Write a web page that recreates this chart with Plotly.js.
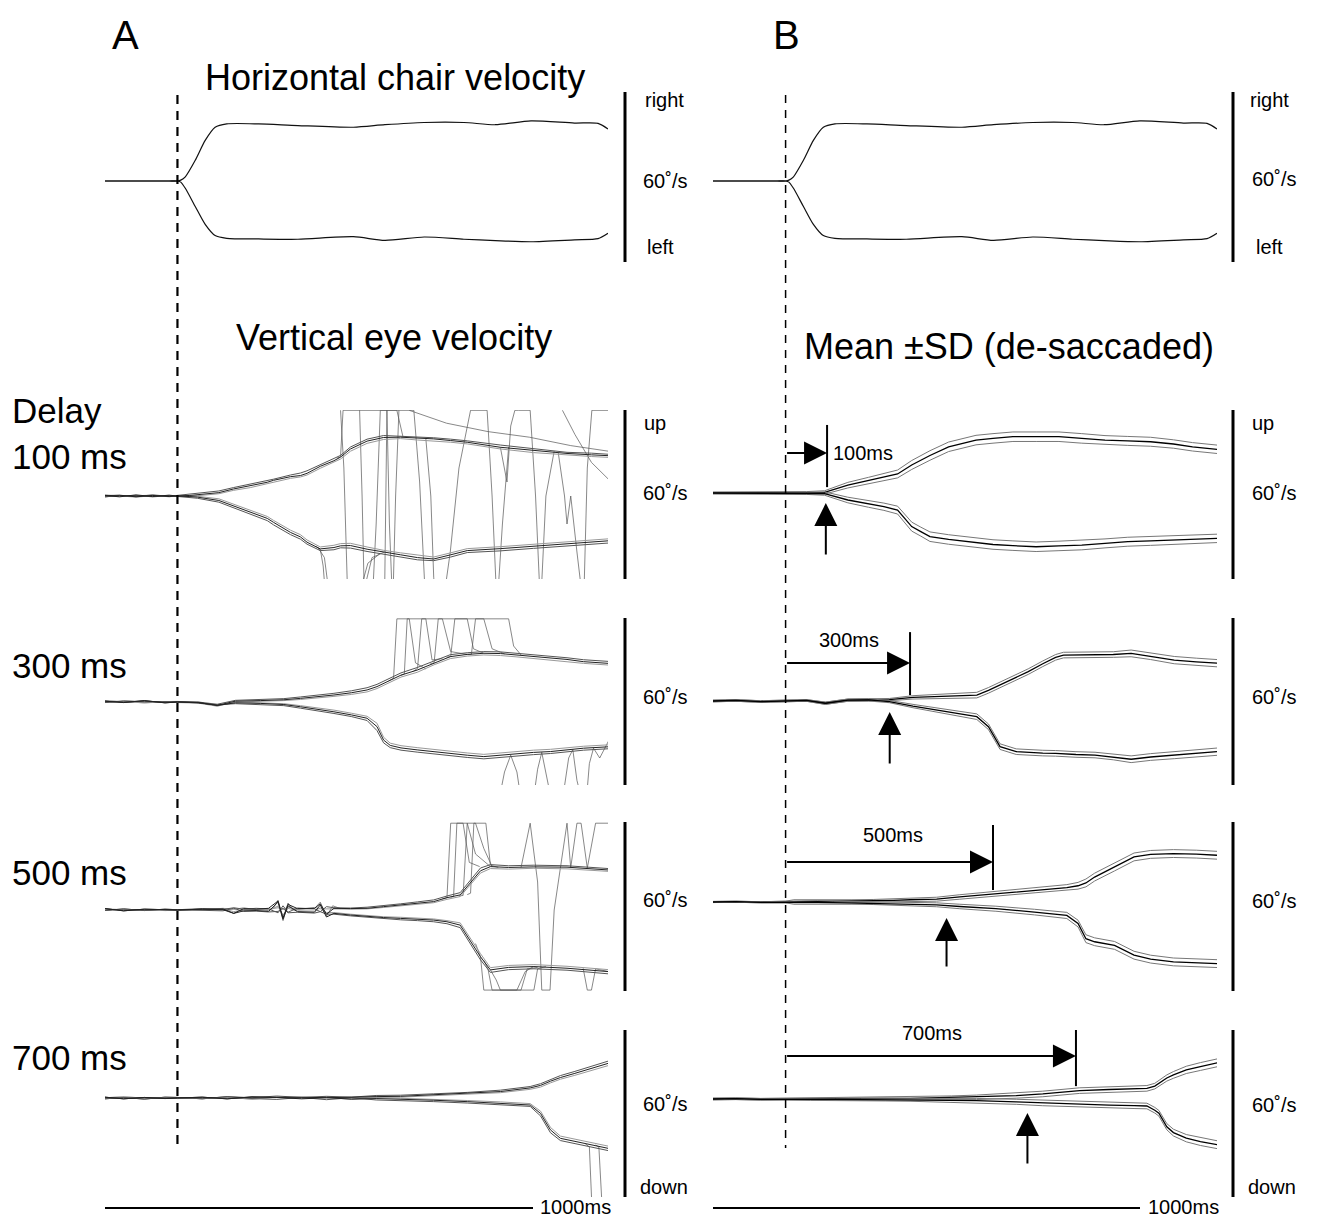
<!DOCTYPE html>
<html><head><meta charset="utf-8">
<script src="https://cdn.plot.ly/plotly-3.0.1.min.js"></script>
<style>html,body{margin:0;padding:0;background:#fff}</style>
</head><body><div id="chart" style="width:1317px;height:1221px"></div>
<script>
// ---------------- DATA (time in ms from chair onset, velocity in deg/s) ----------------
const delays = [100, 300, 500, 700];
const delayLabels = ['100 ms', '300 ms', '500 ms', '700 ms'];
const delayTexts = ['100ms', '300ms', '500ms', '700ms'];
const onsetLatency = [97, 251, 388, 583];

// Horizontal chair velocity
const chairT = [-175, -120, -60, -20, 0, 8, 19, 43, 67, 91, 119, 196, 291, 425, 501, 596, 692, 768, 854, 959, 1016, 1040];
const chairRight = [0, 0, 0, 0, 0, 0.3, 1.5, 7.4, 14.5, 19.2, 20.4, 20.4, 19.8, 19.2, 20.1, 20.9, 20.9, 20.1, 21.5, 20.7, 20.6, 18.6];
const chairLeft = [0, 0, 0, 0, 0, -0.4, -2.6, -9.1, -15.5, -19.5, -20.5, -20.7, -20.8, -19.9, -21.2, -20.0, -20.8, -21.3, -21.7, -21.0, -20.6, -18.7];

// Panel A, delay 100 ms: single trials
const tA1 = [-175, -140, -100, -60, -20, 0, 30, 48, 100, 135, 176, 217, 232, 273, 297, 313, 345, 378, 394, 418, 458, 498, 539, 580, 619, 660, 700, 780, 860, 941, 1000, 1041];
const a1Up1 = [0.2, -0.3, 0.4, -0.2, 0.3, 0, 0.2, 0.4, 1.2, 2.5, 3.6, 4.9, 5.6, 6.9, 7.3, 8.1, 10.6, 12.6, 13.9, 16.8, 19.6, 20.9, 21.0, 20.7, 20.4, 19.8, 19.2, 17.4, 16.2, 15.2, 14.7, 14.4];
const a1Up2 = [-0.3, 0.2, -0.2, 0.4, -0.1, 0.2, 0.5, 0.8, 1.8, 3.0, 4.2, 5.3, 6.0, 7.5, 8.2, 9.0, 11.2, 13.2, 14.5, 17.5, 20.3, 21.6, 21.4, 21.2, 20.8, 20.3, 19.7, 18.2, 16.8, 15.6, 15.3, 14.9];
const a1Up3 = [0.4, 0.1, -0.4, 0.1, 0.2, -0.2, 0, 0.1, 0.8, 2.0, 3.0, 4.4, 5.0, 6.3, 6.8, 7.5, 9.9, 12.0, 13.2, 16.0, 18.8, 20.2, 20.5, 20.0, 19.7, 19.2, 18.6, 16.8, 15.5, 14.6, 14.1, 13.8];
const a1Dn1 = [0.1, 0.3, -0.3, 0.2, -0.2, 0, -0.2, -0.4, -1.6, -3.5, -5.8, -8.0, -9.4, -13.0, -14.6, -16.5, -18.9, -18.4, -17.8, -17.7, -19.0, -20.1, -21.0, -22.0, -22.5, -21.0, -19.5, -18.8, -18.0, -17.1, -16.6, -16.0];
const a1Dn2 = [-0.3, 0.1, 0.2, -0.3, 0.1, -0.1, -0.5, -0.8, -2.2, -4.2, -6.5, -8.8, -10.3, -13.8, -15.4, -17.2, -19.5, -19.2, -18.5, -18.6, -19.8, -20.8, -21.6, -22.8, -23.1, -21.8, -20.2, -19.6, -18.7, -17.9, -17.3, -16.8];
const a1Dn3 = [0.3, -0.2, 0.1, 0.3, -0.3, 0.1, 0, -0.1, -1.0, -2.9, -5.1, -7.3, -8.7, -12.2, -13.8, -15.7, -18.2, -17.6, -17.0, -16.9, -18.2, -19.4, -20.3, -21.2, -21.8, -20.3, -18.8, -18.1, -17.3, -16.4, -15.9, -15.3];
// saccade segments (clipped at recording limits)
const a1Sac = [
  {t: [385, 394, 400, 571, 585, 600, 620], v: [13.5, 14, 30.6, 30.6, 5, -40, -40]},
  {t: [335, 345, 352, 360, 430, 460, 490], v: [-18, -19, -25, -40, -40, -24, -20.5]},
  {t: [340, 355, 362, 370, 440, 470, 500], v: [-18.5, -22, -30, -40, -40, -22, -20]},
  {t: [394, 402, 412, 430, 500, 506, 512, 520], v: [30.6, 10, -40, -40, -40, 30.6, -10, -40]},
  {t: [440, 446, 452, 460, 520, 527, 535], v: [30.6, 0, -40, -40, -40, 0, 30.6]},
  {t: [600, 612, 619, 625, 640, 659, 680, 708, 748, 760, 772, 785, 800], v: [20.5, 0, -29, -40, -40, -20, 10, 30.6, 30.6, 0, -40, -10, 17.5]},
  {t: [780, 796, 805, 815, 824, 852, 865, 877, 890, 910], v: [17.4, 5, 25, 30.6, 30.6, 30.6, 0, -40, 0, 16]},
  {t: [920, 935, 941, 950, 965, 981, 990, 1001, 1041], v: [15.3, 0, -10, 0, -20, -40, 10, 30.6, 30.6]},
  {t: [560, 650, 750, 850, 950, 1041], v: [30.6, 26, 23, 21, 18, 16]},
  {t: [930, 960, 1000, 1041], v: [30.6, 22, 12, 6]},
  {t: [470, 480, 490, 530, 545], v: [-40, -10, 30.6, 30.6, 21]}
];

// Panel A, delay 300 ms
const tA2 = [-175, -130, -80, -30, 0, 50, 96, 140, 200, 257, 297, 340, 378, 420, 458, 482, 498, 514, 540, 579, 620, 659, 700, 740, 780, 820, 860, 901, 941, 981, 1041];
const a2Up1 = [0.3, -0.2, 0.5, -0.3, 0, -0.2, -1.2, 0.3, 0.5, 0.8, 1.3, 1.9, 2.5, 3.3, 4.3, 5.5, 6.7, 7.9, 9.6, 11.4, 14.0, 16.2, 17.0, 17.4, 17.3, 16.8, 16.2, 15.6, 15.2, 14.4, 13.8];
const a2Up2 = [-0.2, 0.4, 0.1, 0.2, 0.2, 0, -0.8, 0.6, 0.8, 1.2, 1.8, 2.4, 3.1, 4.0, 5.1, 6.3, 7.5, 8.6, 10.4, 12.3, 14.8, 16.9, 17.6, 18.0, 17.9, 17.4, 16.9, 16.3, 15.8, 15.1, 14.5];
const a2Up3 = [0.5, 0.1, -0.3, 0.1, -0.2, -0.4, -1.5, 0, 0.2, 0.5, 0.9, 1.4, 2.0, 2.7, 3.6, 4.8, 6.0, 7.2, 8.9, 10.6, 13.3, 15.5, 16.4, 16.8, 16.6, 16.1, 15.5, 14.9, 14.4, 13.8, 13.2];
const a2Dn1 = [0.3, -0.2, 0.5, -0.3, 0, -0.2, -1.2, -0.3, -0.5, -0.9, -1.7, -2.6, -3.5, -4.6, -5.8, -8.8, -13.6, -15.5, -16.4, -17.1, -17.8, -18.3, -19.0, -19.5, -19.0, -18.3, -18.0, -17.7, -17.0, -16.5, -16.0];
const a2Dn2 = [-0.2, 0.3, 0.1, 0.2, 0.1, -0.4, -1.0, -0.6, -0.9, -1.3, -2.2, -3.1, -4.1, -5.2, -6.6, -10.2, -14.6, -16.3, -17.2, -17.9, -18.6, -19.2, -19.8, -20.3, -19.8, -19.1, -18.8, -18.4, -17.8, -17.2, -16.7];
const a2Dn3 = [0.4, 0, -0.3, 0, -0.2, 0, -1.4, 0, -0.2, -0.6, -1.3, -2.1, -2.9, -4.0, -5.1, -7.6, -12.6, -14.7, -15.6, -16.3, -17.0, -17.5, -18.2, -18.7, -18.2, -17.5, -17.2, -16.9, -16.3, -15.8, -15.3];
const a2Sac = [
  {t: [510, 522, 530, 560, 575, 600], v: [7.5, 8.5, 29.7, 29.7, 14, 11.8]},
  {t: [540, 548, 555, 600, 615, 640], v: [9.5, 10, 29.7, 29.7, 15, 15.5]},
  {t: [570, 580, 590, 640, 660, 700], v: [11, 12, 29.7, 29.7, 18, 17]},
  {t: [610, 620, 630, 700, 715, 740], v: [13.5, 14, 29.7, 29.7, 19, 17.4]},
  {t: [650, 660, 670, 740, 760, 790], v: [16, 16.2, 29.7, 29.7, 19, 17.2]},
  {t: [700, 710, 720, 800, 812, 830], v: [17, 17, 29.7, 29.7, 20, 16.8]},
  {t: [770, 790, 805, 820, 835], v: [-40, -25, -19, -25, -40]},
  {t: [855, 870, 880, 895, 910], v: [-40, -24, -18, -30, -40]},
  {t: [925, 945, 955, 965, 985], v: [-40, -20, -17, -28, -40]},
  {t: [985, 995, 1005, 1020, 1041], v: [-40, -22, -16.5, -20, -14]}
];

// Panel A, delay 500 ms
const tA3 = [-175, -130, -80, -30, 0, 60, 110, 136, 160, 190, 220, 243, 255, 267, 290, 331, 345, 360, 378, 418, 458, 498, 539, 580, 619, 651, 683, 732, 756, 800, 861, 941, 1041];
const a3Up1 = [0.5, -0.3, 0.3, 0.2, 0, 0.3, 0.4, -1.2, 0.5, 0.3, 0.6, 3.2, -2.8, 2.0, 0.5, 0.6, 2.2, -1.5, 0.6, 0.5, 0.6, 1.2, 1.8, 2.4, 3.0, 4.4, 5.4, 14.0, 15.5, 15.2, 15.4, 15.3, 14.3];
const a3Up2 = [-0.2, 0.4, -0.2, 0.3, 0.1, 0.5, 0.2, 0.8, 0.3, 0.6, 0.4, -1.0, 1.5, -0.8, 0.7, 0.4, -0.6, 1.2, 0.8, 0.7, 1.0, 1.5, 2.2, 2.9, 3.6, 5.0, 6.2, 15.0, 16.2, 15.8, 16.0, 15.8, 14.8];
const a3Up3 = [0.3, 0.1, 0, -0.2, -0.1, 0.1, 0.6, 0.2, 0.8, 0.1, 0.3, 0.8, 0.2, 1.0, 0.2, 0.9, 0.4, 0.3, 0.4, 0.3, 0.4, 0.9, 1.5, 2.0, 2.6, 3.8, 4.8, 13.2, 14.8, 14.6, 14.9, 14.7, 13.8];
const a3Dn1 = [0.5, -0.3, 0.3, 0.2, 0, 0.3, 0.1, -1.2, -0.3, -0.2, -0.5, 2.8, -3.3, 1.5, -0.6, -0.8, 1.8, -2.5, -1.2, -1.8, -2.3, -2.7, -3.0, -3.3, -3.6, -4.2, -5.4, -16.7, -21.4, -20.5, -20.2, -20.8, -22.0];
const a3Dn2 = [-0.2, 0.4, -0.2, 0.3, 0.1, -0.2, -0.3, 0.6, -0.5, -0.4, -0.7, -0.5, 0.6, -1.0, -0.8, -1.1, -0.6, -1.5, -1.5, -2.1, -2.6, -3.1, -3.5, -3.8, -4.2, -4.9, -6.3, -17.8, -22.3, -21.3, -21.0, -21.5, -22.8];
const a3Dn3 = [0.3, 0.1, 0, -0.2, -0.1, 0.2, 0.4, -0.6, 0.1, 0.2, -0.2, 1.4, -1.8, 0.6, -0.3, -0.4, 0.8, -0.9, -0.9, -1.5, -2.0, -2.4, -2.6, -2.9, -3.2, -3.8, -4.6, -15.6, -20.6, -19.8, -19.5, -20.1, -21.3];
const a3Sac = [
  {t: [640, 651, 660, 700, 720, 756], v: [4, 4.4, 31, 31, 20, 15.5]},
  {t: [660, 667, 675, 690, 705, 730], v: [4.6, 4.8, 31, 31, 17, 15.5]},
  {t: [680, 690, 700, 720, 740, 760], v: [5, 5.2, 31, 31, 22, 15.5]},
  {t: [700, 708, 716, 745, 756, 775], v: [5.5, 6, 31, 31, 16, 15.2]},
  {t: [830, 852, 870, 880, 900, 910, 941, 950], v: [15.2, 31, 10, -28.6, -28.6, 0, 31, 15]},
  {t: [950, 965, 975, 990, 1010, 1020, 1041], v: [15.2, 31, 31, 15, 31, 31, 31]},
  {t: [720, 732, 740, 800, 861, 870, 890], v: [-12, -16.7, -28.6, -28.6, -28.6, -21, -20.2]},
  {t: [740, 750, 760, 820, 840, 860], v: [-18, -21, -28.6, -28.6, -22, -20.2]},
  {t: [756, 770, 780, 830, 845, 870], v: [-21.4, -25, -28.6, -28.6, -21, -20.5]},
  {t: [980, 990, 1000, 1010, 1041], v: [-20.8, -28.6, -28.6, -21, -22]},
  {t: [230, 243, 255, 267, 280, 331, 345, 360, 375, 394], v: [0.3, 3.5, -3.8, 2.5, 0.2, 0.5, 2.8, -2.2, 1.5, 0.5]}
];

// Panel A, delay 700 ms
const tA4 = [-175, -130, -80, -30, 0, 60, 120, 180, 240, 300, 360, 420, 480, 539, 619, 700, 780, 852, 877, 901, 925, 960, 1000, 1041];
const a4Up1 = [0.3, -0.3, 0.2, -0.2, 0, 0.3, -0.3, 0.4, 0.2, 0.3, 0.1, 0.4, 0.5, 0.6, 1.1, 1.6, 2.3, 3.6, 4.5, 6.0, 7.3, 8.8, 10.5, 12.4];
const a4Up2 = [-0.3, 0.2, -0.4, 0.3, 0.2, -0.3, 0.5, 0.1, 0.7, 0.2, 0.6, 0.3, 0.9, 1.0, 1.5, 2.0, 2.8, 4.1, 5.1, 6.6, 8.0, 9.5, 11.2, 13.2];
const a4Up3 = [0.1, 0.4, 0, 0.1, -0.2, 0.1, 0.2, -0.4, 0.3, -0.2, 0.4, 0.0, 0.3, 0.3, 0.8, 1.2, 1.9, 3.1, 3.9, 5.4, 6.7, 8.1, 9.8, 11.6];
const a4Dn1 = [0.3, -0.3, 0.2, -0.2, 0, 0.3, -0.3, 0.4, 0.2, -0.3, 0.1, -0.4, -0.2, -0.4, -0.8, -1.3, -1.8, -2.5, -5.5, -11.4, -14.4, -15.5, -16.5, -18.0];
const a4Dn2 = [-0.3, 0.2, -0.4, 0.3, 0.2, -0.3, 0.5, -0.2, -0.5, 0.2, -0.6, 0.1, -0.7, -0.9, -1.3, -1.8, -2.3, -3.0, -6.4, -12.4, -15.2, -16.3, -17.3, -18.8];
const a4Dn3 = [0.1, 0.4, 0, 0.1, -0.2, 0.1, 0.2, -0.4, 0.3, 0.0, 0.3, -0.5, 0.1, -0.1, -0.4, -0.9, -1.4, -2.0, -4.7, -10.5, -13.6, -14.7, -15.8, -17.2];
const a4Sac = [
  {t: [985, 995, 1003, 1041], v: [-16.3, -17.5, -45, -45]},
  {t: [1010, 1018, 1028, 1041], v: [-16.8, -17.5, -45, -45]}
];

// Panel B: mean and SD (de-saccaded)
const tB1 = [-175, -100, -50, 0, 50, 94, 150, 200, 237, 270, 304, 326, 348, 393, 437, 459, 500, 548, 604, 659, 714, 770, 825, 880, 935, 981, 1041];
const b1UpMean = [0, 0.1, -0.1, 0, 0.1, 0.2, 2.8, 4.4, 5.6, 6.8, 10.0, 11.8, 13.4, 16.5, 18.2, 18.9, 19.5, 20.1, 20.1, 20.1, 19.5, 18.9, 18.6, 18.3, 17.5, 16.5, 15.6];
const b1DnMean = [0, -0.1, 0.1, 0, -0.1, -0.2, -2.5, -3.9, -4.9, -6.1, -12.0, -13.8, -15.6, -16.6, -17.4, -17.8, -18.4, -18.8, -19.2, -18.9, -18.6, -18.0, -17.4, -17.1, -16.8, -16.5, -16.2];
const b1SD = [0.3, 0.3, 0.3, 0.3, 0.4, 0.6, 1.0, 1.2, 1.3, 1.4, 1.6, 1.6, 1.7, 1.7, 1.7, 1.7, 1.7, 1.7, 1.7, 1.7, 1.7, 1.6, 1.6, 1.6, 1.5, 1.5, 1.5];

const tB2 = [-175, -120, -60, 0, 50, 96, 150, 200, 250, 307, 380, 461, 489, 517, 556, 585, 620, 651, 670, 700, 746, 790, 833, 880, 937, 990, 1040];
const b2UpMean = [0, 0.2, -0.2, 0, 0.2, -0.8, 0.3, 0.4, 0.5, 1.3, 1.7, 2.1, 3.8, 5.7, 8.5, 10.5, 13.3, 15.6, 16.4, 16.4, 16.4, 16.6, 17.0, 16.0, 14.6, 14.0, 13.5];
const b2DnMean = [0, 0.2, -0.2, 0, 0.2, -0.8, 0.3, 0.4, -0.2, -1.8, -3.5, -5.6, -9.2, -16.3, -18.1, -18.4, -18.6, -18.7, -18.9, -19.1, -19.3, -20.0, -20.8, -20.0, -19.3, -18.7, -18.1];
const b2SD = [0.3, 0.3, 0.3, 0.3, 0.3, 0.4, 0.4, 0.4, 0.4, 0.6, 0.8, 1.0, 1.0, 1.0, 1.0, 1.0, 1.0, 1.0, 1.0, 1.0, 1.0, 1.0, 1.2, 1.2, 1.3, 1.3, 1.3];

const tB3 = [-175, -120, -60, 0, 20, 77, 115, 160, 211, 260, 300, 364, 420, 507, 600, 678, 705, 724, 745, 793, 840, 880, 935, 990, 1040];
const b3UpMean = [0, 0.1, -0.1, 0, 0.2, 0.1, 0.2, 0.3, 0.4, 0.6, 0.8, 1.0, 1.8, 3.0, 4.1, 5.1, 5.8, 6.8, 8.9, 12.5, 16.1, 17.0, 17.3, 17.1, 16.7];
const b3DnMean = [0, 0.1, -0.1, 0, -0.2, -0.1, -0.2, -0.3, -0.4, -0.6, -0.8, -1.0, -1.6, -2.4, -3.6, -4.8, -7.7, -13.1, -14.2, -15.5, -19.0, -20.4, -21.4, -21.8, -22.0];
const b3SD = [0.2, 0.2, 0.2, 0.3, 0.6, 0.6, 0.5, 0.5, 0.5, 0.5, 0.6, 0.7, 0.8, 0.9, 1.0, 1.1, 1.2, 1.4, 1.4, 1.4, 1.4, 1.4, 1.4, 1.4, 1.4];

const tB4 = [-175, -120, -60, 0, 60, 120, 180, 240, 300, 326, 400, 460, 556, 620, 709, 780, 840, 871, 890, 900, 919, 935, 966, 1000, 1043];
const b4UpMean = [0, 0.1, -0.1, 0, 0.1, 0.1, 0.2, 0.2, 0.2, 0.3, 0.4, 0.6, 1.2, 1.8, 3.0, 3.4, 3.7, 3.8, 4.6, 5.6, 7.5, 8.6, 10.4, 11.6, 13.0];
const b4DnMean = [0, 0.1, -0.1, 0, -0.1, -0.1, -0.2, -0.2, -0.2, -0.3, -0.4, -0.6, -1.0, -1.4, -1.9, -2.2, -2.4, -2.5, -4.0, -5.1, -9.9, -12.0, -14.0, -15.2, -16.4];
const b4SD = [0.3, 0.3, 0.3, 0.3, 0.4, 0.4, 0.5, 0.5, 0.6, 0.6, 0.7, 0.8, 0.9, 1.0, 1.0, 1.0, 1.0, 1.0, 1.0, 1.0, 1.1, 1.2, 1.3, 1.4, 1.4];

// ---------------- LAYOUT GEOMETRY (pixels of the 1317x1221 page) ----------------
const W = 1317, H = 1221;
const colPx = [[105, 608], [713, 1217]];
const rowPx = [
  {top: 92, bot: 262, base: [181, 181]},
  {top: 410, bot: 579, base: [496, 493]},
  {top: 618, bot: 785, base: [702, 701]},
  {top: 822, bot: 991, base: [910, 902]},
  {top: 1030, bot: 1197, base: [1098, 1099]}
];
const pxPerDeg = 2.8;
const tRange = [-175, 1040];
const FONT = 'Liberation Sans, Arial, Helvetica, sans-serif';

const px = x => x / W;
const py = y => 1 - y / H;
const axNum = (row, col) => row * 2 + col + 1;
const xId = n => n === 1 ? 'x' : 'x' + n;
const yId = n => n === 1 ? 'y' : 'y' + n;

const traces = [];
function line(t, v, n, color, width, shape, smoothing) {
  const ln = {color: color, width: width, shape: shape || 'linear'};
  if (smoothing !== undefined) ln.smoothing = smoothing;
  traces.push({x: t, y: v, xaxis: xId(n), yaxis: yId(n), mode: 'lines',
    line: ln, hoverinfo: 'skip', showlegend: false});
}

// chair velocity (same stimulus in A and B)
[0, 1].forEach(col => {
  line(chairT, chairRight, axNum(0, col), '#111', 1.2, 'spline', 0.7);
  line(chairT, chairLeft, axNum(0, col), '#111', 1.2, 'spline', 0.7);
});

// panel A single trials
const trialColors = ['#222', '#555', '#999'];
const aRows = [
  {t: tA1, up: [a1Up1, a1Up2, a1Up3], dn: [a1Dn1, a1Dn2, a1Dn3], sac: a1Sac},
  {t: tA2, up: [a2Up1, a2Up2, a2Up3], dn: [a2Dn1, a2Dn2, a2Dn3], sac: a2Sac},
  {t: tA3, up: [a3Up1, a3Up2, a3Up3], dn: [a3Dn1, a3Dn2, a3Dn3], sac: a3Sac},
  {t: tA4, up: [a4Up1, a4Up2, a4Up3], dn: [a4Dn1, a4Dn2, a4Dn3], sac: a4Sac}
];
aRows.forEach((r, i) => {
  const n = axNum(i + 1, 0);
  r.sac.forEach(s => line(s.t, s.v, n, '#555', 0.7));
  [2, 1, 0].forEach(k => {
    line(r.t, r.up[k], n, trialColors[k], 1.0);
    line(r.t, r.dn[k], n, trialColors[k], 1.0);
  });
});

// panel B mean +/- SD
const bRows = [
  {t: tB1, up: b1UpMean, dn: b1DnMean, sd: b1SD},
  {t: tB2, up: b2UpMean, dn: b2DnMean, sd: b2SD},
  {t: tB3, up: b3UpMean, dn: b3DnMean, sd: b3SD},
  {t: tB4, up: b4UpMean, dn: b4DnMean, sd: b4SD}
];
bRows.forEach((r, i) => {
  const n = axNum(i + 1, 1);
  [r.up, r.dn].forEach(m => {
    line(r.t, m.map((v, j) => v + r.sd[j]), n, '#777', 1);
    line(r.t, m.map((v, j) => v - r.sd[j]), n, '#777', 1);
    line(r.t, m, n, '#000', 1.3);
  });
});

// axes
const layout = {
  width: W, height: H, margin: {l: 0, r: 0, t: 0, b: 0},
  paper_bgcolor: '#fff', plot_bgcolor: 'rgba(0,0,0,0)',
  showlegend: false, font: {family: FONT, color: '#000'},
  shapes: [], annotations: []
};
rowPx.forEach((rp, row) => {
  [0, 1].forEach(col => {
    const n = axNum(row, col);
    const base = rp.base[col];
    layout[n === 1 ? 'xaxis' : 'xaxis' + n] = {
      domain: [px(colPx[col][0]), px(colPx[col][1])], range: tRange,
      visible: false, fixedrange: true, anchor: yId(n)
    };
    layout[n === 1 ? 'yaxis' : 'yaxis' + n] = {
      domain: [py(rp.bot), py(rp.top)],
      range: [-(rp.bot - base) / pxPerDeg, (base - rp.top) / pxPerDeg],
      visible: false, fixedrange: true, anchor: xId(n)
    };
    // calibration bar (60 deg/s)
    const barX = col === 0 ? 625 : 1233;
    layout.shapes.push({type: 'line', xref: 'paper', yref: yId(n) + ' domain',
      x0: px(barX), x1: px(barX), y0: 0, y1: 1, line: {color: '#000', width: 3}});
  });
});

// dashed onset lines
layout.shapes.push({type: 'line', xref: 'x', yref: 'paper', x0: 0, x1: 0, y0: py(95), y1: py(1150),
  line: {color: '#000', width: 2.2, dash: '9px,7px'}});
layout.shapes.push({type: 'line', xref: 'x2', yref: 'paper', x0: 0, x1: 0, y0: py(95), y1: py(1148),
  line: {color: '#000', width: 1.5, dash: '8px,7px'}});

// 1000 ms time bars
[[105, 533], [713, 1140]].forEach(b => layout.shapes.push({type: 'line', xref: 'paper', yref: 'paper',
  x0: px(b[0]), x1: px(b[1]), y0: py(1208), y1: py(1208), line: {color: '#000', width: 2}}));

function txt(text, x, y, size, xanchor) {
  layout.annotations.push({text: text, xref: 'paper', yref: 'paper', x: px(x), y: py(y),
    xanchor: xanchor || 'center', yanchor: 'middle', showarrow: false,
    font: {family: FONT, size: size, color: '#000'}});
}

// headings
txt('A', 125, 35, 40);
txt('B', 786, 35, 40);
txt('Horizontal chair velocity', 395, 77, 36);
txt('Vertical eye velocity', 394, 338, 36);
txt('Mean \u00B1SD (de-saccaded)', 1009, 347, 36);
txt('Delay', 10, 410, 35, 'left');
const delayLabelY = [457, 665, 872, 1057];
delayLabels.forEach((s, i) => txt(s, 10, delayLabelY[i], 35, 'left'));

// calibration labels
const deg = '60\u02DA/s';
txt('right', 643, 100, 20, 'left'); txt('right', 1248, 100, 20, 'left');
txt(deg, 641, 181, 20, 'left'); txt(deg, 1250, 179, 20, 'left');
txt('left', 645, 247, 20, 'left'); txt('left', 1254, 247, 20, 'left');
txt('up', 642, 423, 20, 'left'); txt('up', 1250, 423, 20, 'left');
[[493, 493], [697, 697], [900, 901], [1104, 1105]].forEach(p => {
  txt(deg, 641, p[0], 20, 'left'); txt(deg, 1250, p[1], 20, 'left');
});
txt('down', 638, 1187, 20, 'left'); txt('down', 1246, 1187, 20, 'left');
txt('1000ms', 575, 1207, 20); txt('1000ms', 1183, 1207, 20);

// delay markers and response-onset arrows in panel B
const arrowY = [14.3, 13.6, 14.3, 15.4];
const barY = [[2.1, 24.3], [2.1, 24.6], [4.3, 27.5], [4.6, 25.0]];
const labelPos = [null, [154, 21.8], [258, 23.9], [354, 23.6]];
const upArrowY = [[-22.5, -3.6], [-22.9, -3.9], [-23.6, -5.7], [-23.6, -5.0]];
delays.forEach((d, i) => {
  const n = axNum(i + 1, 1);
  layout.shapes.push({type: 'line', xref: xId(n), yref: yId(n), x0: d, x1: d, y0: barY[i][0], y1: barY[i][1],
    line: {color: '#000', width: 2}});
  layout.annotations.push({xref: xId(n), yref: yId(n), axref: xId(n), ayref: yId(n),
    x: d, y: arrowY[i], ax: 0, ay: arrowY[i], text: '', showarrow: true,
    arrowhead: 2, arrowsize: 2.3, arrowwidth: 2, arrowcolor: '#000', standoff: 0, startstandoff: 0});
  layout.annotations.push({xref: xId(n), yref: yId(n), axref: xId(n), ayref: yId(n),
    x: onsetLatency[i], y: upArrowY[i][1], ax: onsetLatency[i], ay: upArrowY[i][0], text: '', showarrow: true,
    arrowhead: 2, arrowsize: 2.3, arrowwidth: 2, arrowcolor: '#000', standoff: 0, startstandoff: 0});
  if (i === 0) {
    layout.annotations.push({xref: xId(n), yref: yId(n), x: d, y: arrowY[i], xshift: 4, text: delayTexts[i],
      xanchor: 'left', yanchor: 'middle', showarrow: false, font: {family: FONT, size: 20, color: '#000'}});
  } else {
    layout.annotations.push({xref: xId(n), yref: yId(n), x: labelPos[i][0], y: labelPos[i][1], text: delayTexts[i],
      xanchor: 'center', yanchor: 'middle', showarrow: false, font: {family: FONT, size: 20, color: '#000'}});
  }
});

Plotly.newPlot('chart', traces, layout, {staticPlot: true, displayModeBar: false});
</script></body></html>
